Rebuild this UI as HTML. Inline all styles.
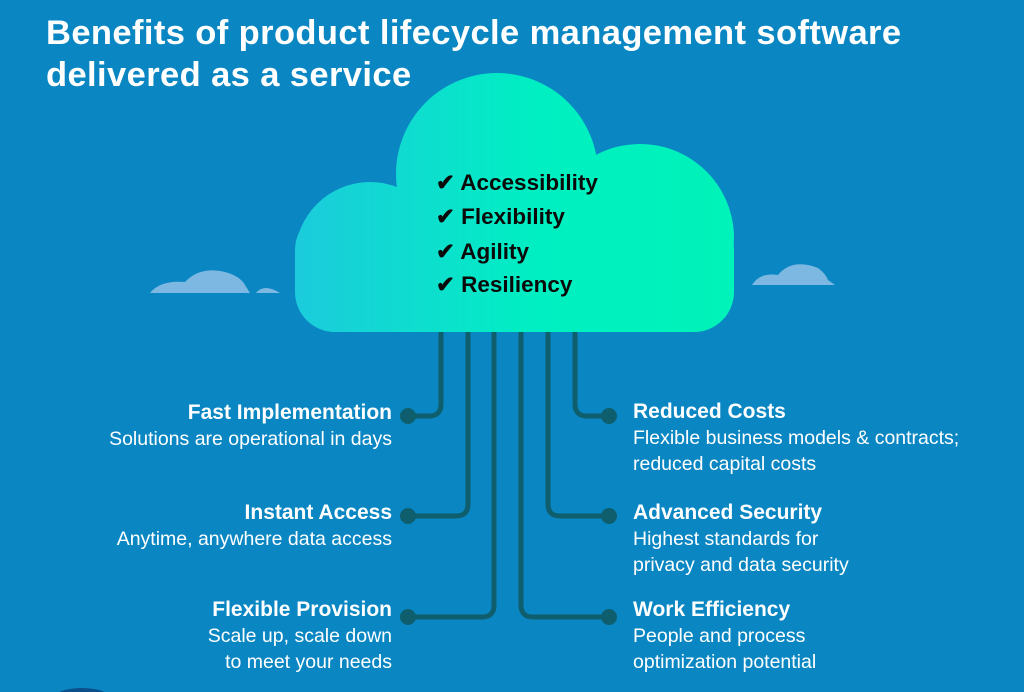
<!DOCTYPE html>
<html><head><meta charset="utf-8"><style>
body{margin:0;width:1024px;height:692px;overflow:hidden;background:#0a87c3;font-family:"Liberation Sans",sans-serif;position:relative}
.t{position:absolute;left:46px;top:12px;color:#fff;font-weight:bold;font-size:34.5px;line-height:42px;letter-spacing:0.4px}
.l{position:absolute;color:#fff;font-size:19.5px;line-height:26px;white-space:nowrap}
.l b{font-size:21px}
.L{right:632px;text-align:right}
.R{left:633px}
</style></head><body>
<svg width="1024" height="692" style="position:absolute;left:0;top:0">
<defs><linearGradient id="g" gradientUnits="userSpaceOnUse" x1="295" x2="734" y1="0" y2="0">
<stop offset="0" stop-color="#1ccbdc"/><stop offset="0.55" stop-color="#00efc2"/><stop offset="1" stop-color="#00f3b8"/></linearGradient></defs>
<g fill="#7cb8e2">
<path d="M150 293 Q160 280 185 282 Q200 266 225 272 Q240 276 245 285 L250 293 Z"/>
<path d="M256 293 Q264 283 280 293 Z"/>
<path d="M752 285 Q760 272 778 275 Q792 258 818 268 Q826 274 828 280 L835 285 Z"/>
</g>
<g fill="url(#g)">
<circle cx="497" cy="174" r="101"/><circle cx="370" cy="257" r="75"/><circle cx="640" cy="238" r="94"/>
<rect x="295" y="210" width="439" height="122" rx="40"/><rect x="400" y="190" width="240" height="120"/>
</g>
<g fill="none" stroke="#0f5e6d" stroke-width="5">
<path d="M441 332 V404 Q441 416 429 416 H408"/>
<path d="M468 332 V504 Q468 516 456 516 H408"/>
<path d="M494 332 V605 Q494 617 482 617 H408"/>
<path d="M575 332 V404 Q575 416 587 416 H609"/>
<path d="M548 332 V504 Q548 516 560 516 H609"/>
<path d="M521 332 V605 Q521 617 533 617 H609"/>
</g>
<g fill="#0f5e6d"><circle cx="408" cy="416" r="8"/><circle cx="408" cy="516" r="8"/><circle cx="408" cy="617" r="8"/>
<circle cx="609" cy="416" r="8"/><circle cx="609" cy="516" r="8"/><circle cx="609" cy="617" r="8"/></g>
<ellipse cx="82" cy="698" rx="28" ry="10" fill="#0b4f8a"/>
<g font-family="Liberation Sans, sans-serif" font-weight="bold" font-size="22.5" fill="#0a0a0a">
<text x="436" y="190">✔ Accessibility</text><text x="436" y="224">✔ Flexibility</text>
<text x="436" y="259">✔ Agility</text><text x="436" y="292">✔ Resiliency</text></g>
</svg>
<div class="t">Benefits of product lifecycle management software<br>delivered as a service</div>
<div class="l L" style="top:400px"><b>Fast Implementation</b><br>Solutions are operational in days</div>
<div class="l L" style="top:500px"><b>Instant Access</b><br>Anytime, anywhere data access</div>
<div class="l L" style="top:597px"><b>Flexible Provision</b><br>Scale up, scale down<br>to meet your needs</div>
<div class="l R" style="top:399px"><b>Reduced Costs</b><br>Flexible business models &amp; contracts;<br>reduced capital costs</div>
<div class="l R" style="top:500px"><b>Advanced Security</b><br>Highest standards for<br>privacy and data security</div>
<div class="l R" style="top:597px"><b>Work Efficiency</b><br>People and process<br>optimization potential</div>
</body></html>
